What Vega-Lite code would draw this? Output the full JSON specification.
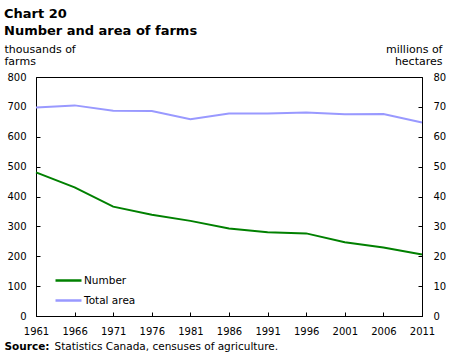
{
  "$schema": "https://vega.github.io/schema/vega-lite/v6.json",
  "width": 386,
  "height": 239,
  "autosize": {"type": "none"},
  "padding": {"left": 36, "top": 77, "right": 28, "bottom": 44},
  "config": {
    "view": {"stroke": "#000", "strokeWidth": 1},
    "font": "DejaVu Sans",
    "axis": {
      "labelFont": "DejaVu Sans",
      "labelFontSize": 10,
      "labelColor": "#000",
      "titleFont": "DejaVu Sans",
      "titleFontSize": 11,
      "titleFontWeight": "normal",
      "titleColor": "#000",
      "domainColor": "#000",
      "tickColor": "#000",
      "tickSize": -4,
      "grid": false
    }
  },
  "title": {
    "text": ["Chart 20", "Number and area of farms"],
    "anchor": "start",
    "frame": "group",
    "font": "DejaVu Sans",
    "fontSize": 13,
    "fontWeight": "bold",
    "color": "#000",
    "lineHeight": 17,
    "dx": -32,
    "offset": 5
  },
  "data": {
    "values": [
      {"year": 1961, "series": "Number", "value": 480.9},
      {"year": 1966, "series": "Number", "value": 430.5},
      {"year": 1971, "series": "Number", "value": 366.1},
      {"year": 1976, "series": "Number", "value": 338.6},
      {"year": 1981, "series": "Number", "value": 318.4},
      {"year": 1986, "series": "Number", "value": 293.1},
      {"year": 1991, "series": "Number", "value": 280.0},
      {"year": 1996, "series": "Number", "value": 276.5},
      {"year": 2001, "series": "Number", "value": 246.9},
      {"year": 2006, "series": "Number", "value": 229.4},
      {"year": 2011, "series": "Number", "value": 205.7},
      {"year": 1961, "series": "Total area", "value": 69.8},
      {"year": 1966, "series": "Total area", "value": 70.5},
      {"year": 1971, "series": "Total area", "value": 68.7},
      {"year": 1976, "series": "Total area", "value": 68.6},
      {"year": 1981, "series": "Total area", "value": 65.9},
      {"year": 1986, "series": "Total area", "value": 67.8},
      {"year": 1991, "series": "Total area", "value": 67.8},
      {"year": 1996, "series": "Total area", "value": 68.1},
      {"year": 2001, "series": "Total area", "value": 67.5},
      {"year": 2006, "series": "Total area", "value": 67.6},
      {"year": 2011, "series": "Total area", "value": 64.8}
    ]
  },
  "layer": [
    {
      "transform": [{"filter": "datum.series === 'Number'"}],
      "mark": {"type": "line", "strokeWidth": 2},
      "encoding": {
        "x": {
          "field": "year",
          "type": "quantitative",
          "scale": {"domain": [1961, 2011], "nice": false, "zero": false},
          "axis": {
            "orient": "bottom",
            "values": [1961, 1966, 1971, 1976, 1981, 1986, 1991, 1996, 2001, 2006, 2011],
            "format": "d",
            "labelFlush": false,
            "labelPadding": 14,
            "title": "Statistics Canada, censuses of agriculture.",
            "titleFontSize": 10.5,
            "titleAnchor": "start",
            "titleAlign": "left",
            "titleBaseline": "alphabetic",
            "titleX": 18,
            "titleY": 33
          }
        },
        "y": {
          "field": "value",
          "type": "quantitative",
          "scale": {"domain": [0, 800], "nice": false},
          "axis": {
            "orient": "left",
            "values": [0, 100, 200, 300, 400, 500, 600, 700, 800],
            "labelPadding": 14,
            "title": ["thousands of", "farms"],
            "titleAngle": 0,
            "titleAlign": "left",
            "titleBaseline": "alphabetic",
            "titleLineHeight": 12,
            "titleX": -32,
            "titleY": -25
          }
        },
        "color": {
          "field": "series",
          "type": "nominal",
          "scale": {"domain": ["Number", "Total area"], "range": ["#008000", "#9999ff"]},
          "legend": {
            "title": null,
            "orient": "none",
            "legendX": 18,
            "legendY": 189,
            "symbolType": "stroke",
            "symbolSize": 676,
            "symbolStrokeWidth": 2.5,
            "labelFont": "DejaVu Sans",
            "labelFontSize": 10.5,
            "labelColor": "#000",
            "labelOffset": 1,
            "rowPadding": -12
          }
        }
      }
    },
    {
      "transform": [{"filter": "datum.series === 'Total area'"}],
      "mark": {"type": "line", "strokeWidth": 2},
      "encoding": {
        "x": {
          "field": "year",
          "type": "quantitative",
          "axis": {
            "orient": "bottom",
            "labels": false,
            "ticks": false,
            "domain": false,
            "title": "Source:",
            "titleFontWeight": "bold",
            "titleFontSize": 10.5,
            "titleAnchor": "start",
            "titleAlign": "left",
            "titleBaseline": "alphabetic",
            "titleX": -32,
            "titleY": 33
          }
        },
        "y": {
          "field": "value",
          "type": "quantitative",
          "scale": {"domain": [0, 80], "nice": false},
          "axis": {
            "orient": "right",
            "values": [0, 10, 20, 30, 40, 50, 60, 70, 80],
            "labelPadding": 15,
            "title": ["millions of", "hectares"],
            "titleAngle": 0,
            "titleAlign": "right",
            "titleBaseline": "alphabetic",
            "titleLineHeight": 12,
            "titleX": 20,
            "titleY": -25
          }
        },
        "color": {"field": "series", "type": "nominal"}
      }
    }
  ],
  "resolve": {"scale": {"y": "independent"}, "axis": {"x": "independent"}}
}
